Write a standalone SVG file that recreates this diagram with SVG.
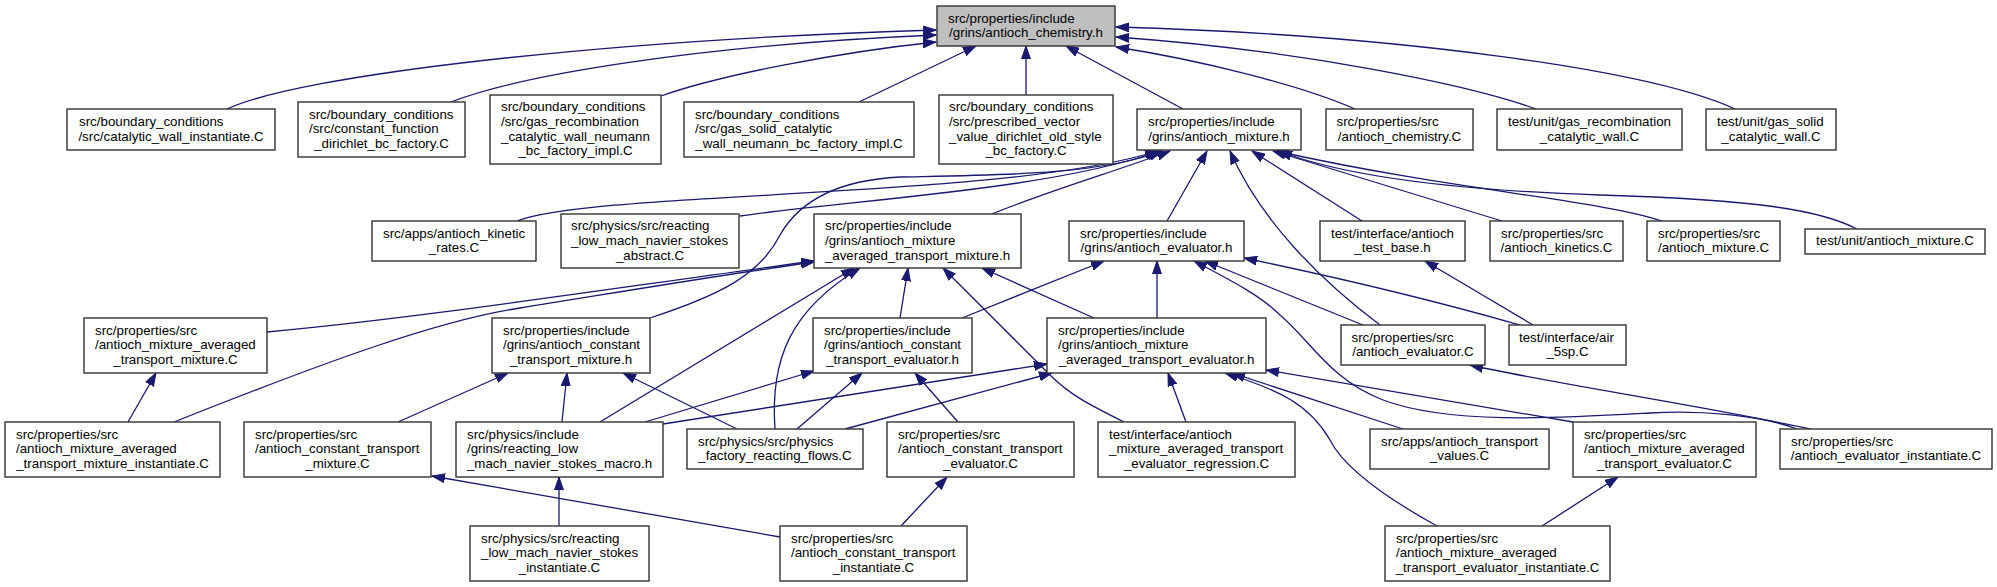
<svg xmlns="http://www.w3.org/2000/svg" width="1997" height="587" viewBox="0 0 1997 587">
<style>
.n rect{fill:#fff;stroke:#333;stroke-width:1.4}
.root rect{fill:#bfbfbf}
text{font-family:"Liberation Sans",Arial,Helvetica,sans-serif;font-size:13.33px;fill:#000}
.m{text-anchor:middle}
#edges path{fill:none;stroke:#191970;stroke-width:1.3;marker-end:url(#arr)}
</style>
<defs>
<marker id="arr" markerWidth="14" markerHeight="10" refX="13" refY="5" orient="auto" markerUnits="userSpaceOnUse">
<path d="M0,0.5 L13,5 L0,9.5 z" fill="#191970" stroke="#191970" stroke-width="1"/>
</marker>
</defs>
<rect width="1997" height="587" fill="#fff"/>
<g id="edges">
<path d="M227,109 C300,75 600,40 936,30"/>
<path d="M451,102 C520,75 700,45 936,35"/>
<path d="M661,96 C720,75 840,52 936,42"/>
<path d="M859,102 L976,46"/>
<path d="M1026,95 L1026,46"/>
<path d="M1183,109 L1066,46"/>
<path d="M1355,109 C1300,85 1200,60 1116,47"/>
<path d="M1536,109 C1470,85 1300,50 1116,37"/>
<path d="M1735,109 C1650,70 1400,35 1116,27"/>
<path d="M517,221 C600,190 1000,200 1158,151"/>
<path d="M740,216 C850,200 1050,190 1160,151"/>
<path d="M650,318 C720,295 760,275 780,235 C800,200 840,180 900,177 C1000,175 1100,175 1162,151"/>
<path d="M992,214 C1050,190 1120,170 1170,151"/>
<path d="M1167,221 L1207,151"/>
<path d="M1380,325 C1320,280 1260,220 1230,151"/>
<path d="M1362,221 L1252,151"/>
<path d="M1502,221 L1273,151"/>
<path d="M1662,221 C1600,200 1450,190 1276,151"/>
<path d="M1857,229 C1820,210 1760,200 1600,195 C1450,190 1340,175 1279,151"/>
<path d="M267,332 C420,318 600,290 814,261"/>
<path d="M174,422 C330,360 440,320 520,308 C620,292 720,275 814,262"/>
<path d="M600,422 L854,268"/>
<path d="M775,429 C770,360 790,310 860,268"/>
<path d="M900,318 L908,268"/>
<path d="M1124,422 C1090,405 1070,395 1050,375 L943,268"/>
<path d="M1094,318 L982,268"/>
<path d="M962,318 L1104,261"/>
<path d="M1157,318 L1157,261"/>
<path d="M1363,325 L1205,261"/>
<path d="M1520,325 C1450,305 1350,280 1244,258"/>
<path d="M1797,429 C1760,415 1700,410 1650,413 C1560,418 1450,425 1383,400 C1330,380 1310,340 1280,315 C1260,295 1230,280 1194,261"/>
<path d="M1533,325 L1425,261"/>
<path d="M398,422 L508,373"/>
<path d="M562,422 L567,373"/>
<path d="M737,429 L623,373"/>
<path d="M645,422 L814,371"/>
<path d="M797,429 L862,373"/>
<path d="M958,422 L915,373"/>
<path d="M663,424 L1047,364"/>
<path d="M845,429 L1052,373"/>
<path d="M1186,422 L1168,373"/>
<path d="M1403,429 L1232,373"/>
<path d="M1573,422 L1266,370"/>
<path d="M1437,526 C1390,500 1345,470 1330,440 C1310,405 1280,390 1225,373"/>
<path d="M128,422 L156,373"/>
<path d="M559,526 L559,477"/>
<path d="M780,537 L432,476"/>
<path d="M901,526 L947,477"/>
<path d="M1810,429 C1700,405 1560,385 1470,365"/>
<path d="M1542,526 L1618,477"/>
</g>
<g id="main" class="n root"><rect x="937" y="6" width="178" height="40"/><text x="948" y="22.5">src/properties/include</text><text class="m" x="1026" y="37.2">/grins/antioch_chemistry.h</text></g>
<g id="n_cwi" class="n"><rect x="67" y="109" width="208" height="41"/><text x="79" y="126">src/boundary_conditions</text><text class="m" x="171" y="140.7">/src/catalytic_wall_instantiate.C</text></g>
<g id="n_cfd" class="n"><rect x="298" y="102" width="167" height="55"/><text x="309" y="118.65">src/boundary_conditions</text><text x="309" y="133.35">/src/constant_function</text><text class="m" x="381.5" y="148.05">_dirichlet_bc_factory.C</text></g>
<g id="n_grc" class="n"><rect x="490" y="95" width="171" height="69"/><text x="501" y="111.3">src/boundary_conditions</text><text x="501" y="126">/src/gas_recombination</text><text x="501" y="140.7">_catalytic_wall_neumann</text><text class="m" x="575.5" y="155.4">_bc_factory_impl.C</text></g>
<g id="n_gsc" class="n"><rect x="684" y="102" width="230" height="55"/><text x="695" y="118.65">src/boundary_conditions</text><text x="695" y="133.35">/src/gas_solid_catalytic</text><text class="m" x="799" y="148.05">_wall_neumann_bc_factory_impl.C</text></g>
<g id="n_pvv" class="n"><rect x="939" y="95" width="174" height="69"/><text x="949" y="111.3">src/boundary_conditions</text><text x="949" y="126">/src/prescribed_vector</text><text x="949" y="140.7">_value_dirichlet_old_style</text><text class="m" x="1026" y="155.4">_bc_factory.C</text></g>
<g id="n_mix_h" class="n"><rect x="1137" y="109" width="164" height="41"/><text x="1148" y="126">src/properties/include</text><text class="m" x="1219" y="140.7">/grins/antioch_mixture.h</text></g>
<g id="n_chem_C" class="n"><rect x="1326" y="109" width="147" height="41"/><text x="1336.5" y="126">src/properties/src</text><text class="m" x="1399.5" y="140.7">/antioch_chemistry.C</text></g>
<g id="n_ut_grc" class="n"><rect x="1497" y="109" width="185" height="41"/><text x="1508" y="126">test/unit/gas_recombination</text><text class="m" x="1589.5" y="140.7">_catalytic_wall.C</text></g>
<g id="n_ut_gsc" class="n"><rect x="1706" y="109" width="130" height="41"/><text x="1717" y="126">test/unit/gas_solid</text><text class="m" x="1771" y="140.7">_catalytic_wall.C</text></g>
<g id="n_kin_rates" class="n"><rect x="372" y="221" width="164" height="40"/><text x="383" y="237.5">src/apps/antioch_kinetic</text><text class="m" x="454" y="252.2">_rates.C</text></g>
<g id="n_rlm_abs" class="n"><rect x="561" y="214" width="178" height="54"/><text x="571" y="230.15">src/physics/src/reacting</text><text x="571" y="244.85">_low_mach_navier_stokes</text><text class="m" x="650" y="259.55">_abstract.C</text></g>
<g id="n_mat_h" class="n"><rect x="814" y="214" width="207" height="54"/><text x="825" y="230.15">src/properties/include</text><text x="825" y="244.85">/grins/antioch_mixture</text><text class="m" x="917.5" y="259.55">_averaged_transport_mixture.h</text></g>
<g id="n_eval_h" class="n"><rect x="1069" y="221" width="175" height="40"/><text x="1080" y="237.5">src/properties/include</text><text class="m" x="1156.5" y="252.2">/grins/antioch_evaluator.h</text></g>
<g id="n_test_base" class="n"><rect x="1320" y="221" width="145" height="40"/><text x="1331" y="237.5">test/interface/antioch</text><text class="m" x="1392.5" y="252.2">_test_base.h</text></g>
<g id="n_kin_C" class="n"><rect x="1490" y="221" width="133" height="40"/><text x="1501" y="237.5">src/properties/src</text><text class="m" x="1556.5" y="252.2">/antioch_kinetics.C</text></g>
<g id="n_mix_C" class="n"><rect x="1647" y="221" width="133" height="40"/><text x="1658" y="237.5">src/properties/src</text><text class="m" x="1713.5" y="252.2">/antioch_mixture.C</text></g>
<g id="n_ut_mix" class="n"><rect x="1805" y="229" width="180" height="25"/><text class="m" x="1895" y="245.35">test/unit/antioch_mixture.C</text></g>
<g id="n_matC" class="n"><rect x="84" y="318" width="183" height="55"/><text x="95" y="334.65">src/properties/src</text><text x="95" y="349.35">/antioch_mixture_averaged</text><text class="m" x="175.5" y="364.05">_transport_mixture.C</text></g>
<g id="n_ctm_h" class="n"><rect x="492" y="318" width="158" height="55"/><text x="503" y="334.65">src/properties/include</text><text x="503" y="349.35">/grins/antioch_constant</text><text class="m" x="571" y="364.05">_transport_mixture.h</text></g>
<g id="n_cte_h" class="n"><rect x="813" y="318" width="159" height="55"/><text x="824" y="334.65">src/properties/include</text><text x="824" y="349.35">/grins/antioch_constant</text><text class="m" x="892.5" y="364.05">_transport_evaluator.h</text></g>
<g id="n_mate_h" class="n"><rect x="1047" y="318" width="219" height="55"/><text x="1058" y="334.65">src/properties/include</text><text x="1058" y="349.35">/grins/antioch_mixture</text><text class="m" x="1156.5" y="364.05">_averaged_transport_evaluator.h</text></g>
<g id="n_evalC" class="n"><rect x="1341" y="325" width="144" height="40"/><text x="1351.5" y="341.5">src/properties/src</text><text class="m" x="1413" y="356.2">/antioch_evaluator.C</text></g>
<g id="n_air" class="n"><rect x="1509" y="325" width="117" height="40"/><text x="1519" y="341.5">test/interface/air</text><text class="m" x="1567.5" y="356.2">_5sp.C</text></g>
<g id="n_mat_inst" class="n"><rect x="5" y="422" width="215" height="55"/><text x="16" y="438.65">src/properties/src</text><text x="16" y="453.35">/antioch_mixture_averaged</text><text class="m" x="112.5" y="468.05">_transport_mixture_instantiate.C</text></g>
<g id="n_ctmC" class="n"><rect x="244" y="422" width="187" height="55"/><text x="255" y="438.65">src/properties/src</text><text x="255" y="453.35">/antioch_constant_transport</text><text class="m" x="337.5" y="468.05">_mixture.C</text></g>
<g id="n_macro" class="n"><rect x="456" y="422" width="207" height="55"/><text x="467" y="438.65">src/physics/include</text><text x="467" y="453.35">/grins/reacting_low</text><text class="m" x="559.5" y="468.05">_mach_navier_stokes_macro.h</text></g>
<g id="n_pf" class="n"><rect x="687" y="429" width="176" height="40"/><text x="698" y="445.5">src/physics/src/physics</text><text class="m" x="775" y="460.2">_factory_reacting_flows.C</text></g>
<g id="n_cteC" class="n"><rect x="887" y="422" width="187" height="55"/><text x="898" y="438.65">src/properties/src</text><text x="898" y="453.35">/antioch_constant_transport</text><text class="m" x="980.5" y="468.05">_evaluator.C</text></g>
<g id="n_reg" class="n"><rect x="1098" y="422" width="197" height="55"/><text x="1109" y="438.65">test/interface/antioch</text><text x="1109" y="453.35">_mixture_averaged_transport</text><text class="m" x="1196.5" y="468.05">_evaluator_regression.C</text></g>
<g id="n_tv" class="n"><rect x="1370" y="429" width="179" height="40"/><text x="1381" y="445.5">src/apps/antioch_transport</text><text class="m" x="1459.5" y="460.2">_values.C</text></g>
<g id="n_mateC" class="n"><rect x="1573" y="422" width="183" height="55"/><text x="1584" y="438.65">src/properties/src</text><text x="1584" y="453.35">/antioch_mixture_averaged</text><text class="m" x="1664.5" y="468.05">_transport_evaluator.C</text></g>
<g id="n_eval_inst" class="n"><rect x="1780" y="429" width="212" height="40"/><text x="1791" y="445.5">src/properties/src</text><text class="m" x="1886" y="460.2">/antioch_evaluator_instantiate.C</text></g>
<g id="n_rlm_inst" class="n"><rect x="470" y="526" width="179" height="55"/><text x="481" y="542.65">src/physics/src/reacting</text><text x="481" y="557.35">_low_mach_navier_stokes</text><text class="m" x="559.5" y="572.05">_instantiate.C</text></g>
<g id="n_ct_inst" class="n"><rect x="780" y="526" width="187" height="55"/><text x="791" y="542.65">src/properties/src</text><text x="791" y="557.35">/antioch_constant_transport</text><text class="m" x="873.5" y="572.05">_instantiate.C</text></g>
<g id="n_mate_inst" class="n"><rect x="1385" y="526" width="225" height="55"/><text x="1396" y="542.65">src/properties/src</text><text x="1396" y="557.35">/antioch_mixture_averaged</text><text class="m" x="1497.5" y="572.05">_transport_evaluator_instantiate.C</text></g>
</svg>
